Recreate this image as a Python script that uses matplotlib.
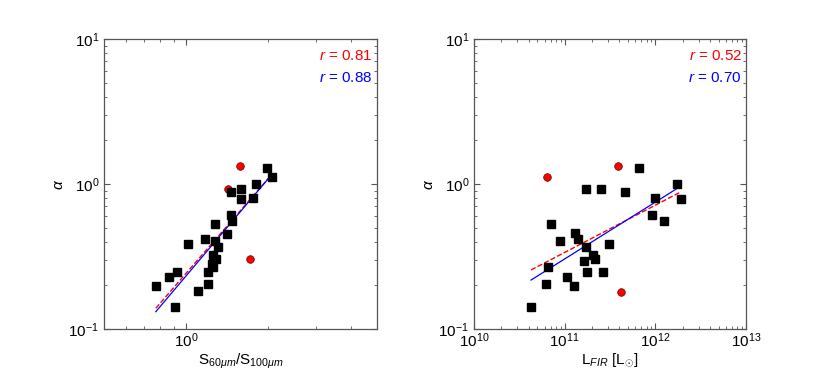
import numpy as np
import matplotlib
matplotlib.use("Agg")
import matplotlib.pyplot as plt

plt.rcParams['font.family'] = ['Liberation Sans', 'DejaVu Sans']
plt.rcParams['mathtext.fontset'] = 'custom'
plt.rcParams['mathtext.rm'] = 'Liberation Sans'
plt.rcParams['mathtext.it'] = 'Liberation Sans:italic'
plt.rcParams['mathtext.bf'] = 'Liberation Sans:bold'

# ---- data: left panel (S60/S100 vs alpha) ----
color_ratio_sq = [0.774, 0.866, 0.929, 0.913, 1.015, 1.107, 1.168, 1.198, 1.205, 1.249,
                  1.257, 1.286, 1.243, 1.275, 1.311, 1.278, 1.406, 1.463, 1.472, 1.463,
                  1.583, 1.583, 1.759, 1.804, 1.981, 2.066]
alpha_sq_left = [0.199, 0.227, 0.247, 0.141, 0.387, 0.182, 0.418, 0.204, 0.246, 0.269,
                 0.324, 0.303, 0.281, 0.406, 0.366, 0.532, 0.454, 0.614, 0.556, 0.885,
                 0.918, 0.789, 0.797, 1.000, 1.283, 1.123]
color_ratio_circ = [1.423, 1.579, 1.719]
alpha_circ_left = [0.929, 1.331, 0.304]

# ---- data: right panel (L_FIR vs alpha), log10(L_FIR) ----
logL_sq = [10.629, 10.797, 10.819, 10.849, 10.945, 11.026, 11.103, 11.114, 11.144, 11.213,
           11.235, 11.235, 11.243, 11.316, 11.338, 11.404, 11.419, 11.492, 11.665, 11.820,
           11.960, 11.996, 12.099, 12.239, 12.286]
alpha_sq_right = [0.141, 0.205, 0.268, 0.530, 0.406, 0.229, 0.199, 0.457, 0.420, 0.293,
                  0.370, 0.918, 0.247, 0.322, 0.305, 0.924, 0.247, 0.387, 0.881, 1.283,
                  0.614, 0.797, 0.558, 1.000, 0.783]
logL_circ = [10.808, 11.588, 11.625]
alpha_circ_right = [1.123, 1.331, 0.181]

# fit lines in log-log space: log10(alpha) = slope*log10(x) + intercept
fit_left_blue = (2.227, -0.633)
fit_left_red = (2.172, -0.615)
fit_right_blue = (0.392, -4.829)
fit_right_red = (0.326, -4.058)

r_left = ("0.81", "0.88")
r_right = ("0.52", "0.70")

W, H = 830, 388
fig = plt.figure(figsize=(W / 100, H / 100), dpi=100)

def pos(x0, x1, ytop, ybot):
    return [x0 / W, 1 - ybot / H, (x1 - x0) / W, (ybot - ytop) / H]

axL = fig.add_axes(pos(104, 377, 39, 329))
axR = fig.add_axes(pos(474, 746, 39, 329))

spine_c = '#555555'

def style(ax):
    ax.set_xscale('log')
    ax.set_yscale('log')
    for s in ax.spines.values():
        s.set_color(spine_c)
        s.set_linewidth(0.9)
    ax.tick_params(which='both', direction='in', top=True, right=True,
                   color=spine_c, labelsize=11, labelcolor='black')
    ax.tick_params(axis='x', which='major', pad=2)
    ax.tick_params(which='major', length=4, width=0.8)
    ax.tick_params(which='minor', length=2, width=0.6)
    ax.set_ylim(0.1, 10)
    ax.set_ylabel(r'$\alpha$', fontsize=11, labelpad=2)

def fitline(ax, xs, fit, **kw):
    lx = np.log10(np.array(xs))
    xr = np.linspace(lx.min(), lx.max(), 50)
    ax.plot(10 ** xr, 10 ** (fit[0] * xr + fit[1]), **kw)

# left
style(axL)
axL.set_xlim(0.5, 5)
axL.plot(color_ratio_sq, alpha_sq_left, 's', color='black', ms=6, zorder=3)
axL.plot(color_ratio_circ, alpha_circ_left, 'o', mfc='red', mec='#660000', mew=0.5, ms=5.5, zorder=2)
fitline(axL, color_ratio_sq, fit_left_red, color='red', ls='--', lw=1)
fitline(axL, color_ratio_sq, fit_left_blue, color='blue', ls='-', lw=0.9)
axL.set_xlabel(r'S$_{60\mu m}$/S$_{100\mu m}$', fontsize=11, labelpad=1)
axL.xaxis.set_minor_formatter(matplotlib.ticker.NullFormatter())
axL.text(0.985, 0.94, r'$r$ = ' + r_left[0], color='red', fontsize=11,
         ha='right', va='center', transform=axL.transAxes)
axL.text(0.985, 0.866, r'$r$ = ' + r_left[1], color='blue', fontsize=11,
         ha='right', va='center', transform=axL.transAxes)

# right
style(axR)
axR.set_xlim(1e10, 1e13)
L_sq = [10 ** v for v in logL_sq]
L_circ = [10 ** v for v in logL_circ]
axR.plot(L_sq, alpha_sq_right, 's', color='black', ms=6, zorder=3)
axR.plot(L_circ, alpha_circ_right, 'o', mfc='red', mec='#660000', mew=0.5, ms=5.5, zorder=2)
fitline(axR, L_sq, fit_right_red, color='red', ls='--', lw=1)
fitline(axR, L_sq, fit_right_blue, color='blue', ls='-', lw=0.9)
axR.set_xlabel(r'L$_{FIR}$ [L$_{\odot}$]', fontsize=11, labelpad=1)
axR.text(0.985, 0.94, r'$r$ = ' + r_right[0], color='red', fontsize=11,
         ha='right', va='center', transform=axR.transAxes)
axR.text(0.985, 0.866, r'$r$ = ' + r_right[1], color='blue', fontsize=11,
         ha='right', va='center', transform=axR.transAxes)

fig.savefig('out.png', dpi=100)
